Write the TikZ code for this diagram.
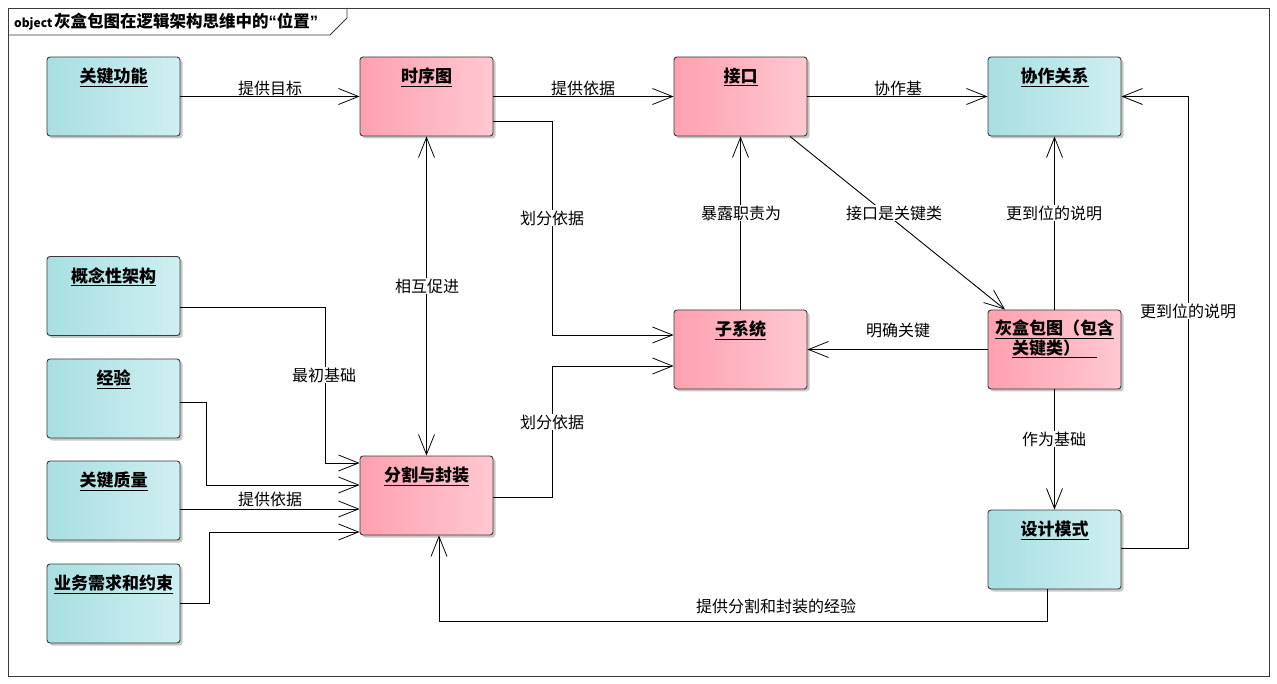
\documentclass[tikz,border=0pt]{standalone}
\usepackage{fontspec}
\setmainfont{Noto Sans CJK SC}
\newfontfamily\latinf{Liberation Sans}
\usetikzlibrary{arrows.meta,shadows,calc}
\definecolor{cyanL}{HTML}{A8DFE2}
\definecolor{cyanR}{HTML}{CFEFF1}
\definecolor{pinkL}{HTML}{FFA0AF}
\definecolor{pinkR}{HTML}{FFC8D2}
\definecolor{bord}{HTML}{3A3A3A}
\tikzset{
  box/.style={draw=bord, line width=0.9pt, rounded corners=3pt, minimum width=133pt, minimum height=79pt,
    inner sep=0pt, shading=axis, shading angle=90,
    drop shadow={shadow xshift=2.5pt, shadow yshift=-2.5pt, fill=black, opacity=0.22}},
  cbox/.style={box, left color=cyanL, right color=cyanR},
  pbox/.style={box, left color=pinkL, right color=pinkR},
  ttl/.style={anchor=north, yshift=-8pt, font=\bfseries\fontsize{17}{18}\selectfont, align=center},
  lbl/.style={fill=white, inner sep=1pt, font=\fontsize{16}{17}\selectfont},
  conn/.style={line width=0.9pt, draw=black, -{Straight Barb[length=20pt,width=16pt,line width=0.8pt]}},
}
\begin{document}
\begin{tikzpicture}[x=1pt,y=-1pt]
\useasboundingbox (0,0) rectangle (1277,684);
% frame
\draw[line width=0.9pt, draw=bord] (8,8) rectangle (1269,676);
\draw[line width=0.9pt, draw=bord] (8,35) -- (330,35) -- (347,18) -- (347,8);
\node[anchor=west, inner sep=0pt] (title) at (14,22) {\bfseries{\fontsize{12}{13}\selectfont object}\,\fontsize{16.5}{18}\selectfont 灰盒包图在逻辑架构思维中的{\latinf“}位置{\latinf”}};

% boxes
\node[cbox, label={[ttl]north:\underline{关键功能}}] (gj) at (113.5,96.5) {};
\node[pbox, label={[ttl]north:\underline{时序图}}] (sx) at (426.5,96.5) {};
\node[pbox, label={[ttl]north:\underline{接口}}] (jk) at (740.5,96.5) {};
\node[cbox, label={[ttl]north:\underline{协作关系}}] (xz) at (1054.5,96.5) {};
\node[cbox, label={[ttl]north:\underline{概念性架构}}] (gn) at (113.5,296) {};
\node[cbox, label={[ttl]north:\underline{经验}}] (jy) at (113.5,398.5) {};
\node[cbox, label={[ttl]north:\underline{关键质量}}] (zl) at (113.5,500.5) {};
\node[cbox, label={[ttl]north:\underline{业务需求和约束}}] (yw) at (113.5,603.5) {};
\node[pbox, label={[ttl]north:\underline{分割与封装}}] (fg) at (426.5,495.5) {};
\node[pbox, label={[ttl]north:\underline{子系统}}] (zx) at (740.5,349.5) {};
\node[pbox, label={[ttl, yshift=1pt, font=\bfseries\fontsize{17}{17.5}\selectfont]north:\underline{灰盒包图（包含}\\\underline{关键类）\hphantom{（}}}] (hh) at (1054.5,349.5) {};
\node[cbox, label={[ttl]north:\underline{设计模式}}] (sj) at (1054.5,549.5) {};

% connectors
\draw[conn] (gj.east) -- (sx.west);
\draw[conn] (sx.east) -- (jk.west);
\draw[conn] (jk.east) -- (xz.west);
\draw[conn] ([yshift=-24.5pt]sx.east) -- ++(59,0) |- ([yshift=14.5pt]zx.west);
\draw[conn, {Straight Barb[length=20pt,width=16pt,line width=0.8pt]}-{Straight Barb[length=20pt,width=16pt,line width=0.8pt]}] (sx.south) -- (fg.north);
\draw[conn] ([yshift=-1.5pt]fg.east) -- ++(59,0) |- ([yshift=-16.5pt]zx.west);
\draw[conn] (zx.north) -- (jk.south);
\draw[conn] ([xshift=49.5pt]jk.south) -- ([xshift=-49.5pt]hh.north);
\draw[conn] (hh.west) -- (zx.east);
\draw[conn] (hh.north) -- (xz.south);
\draw[conn] (hh.south) -- (sj.north);
\draw[conn] ([yshift=1.5pt]sj.east) -- ++(67,0) |- (xz.east);
\draw[conn] ([xshift=-7.5pt]sj.south) -- ++(0,32) -| ([xshift=12.5pt]fg.south);
\draw[conn] ([yshift=-11pt]gn.east) -- ++(145,0) |- ([yshift=32.5pt]fg.west);
\draw[conn] ([yshift=-3.5pt]jy.east) -- ++(26,0) |- ([yshift=10.5pt]fg.west);
\draw[conn] ([yshift=-8.5pt]zl.east) -- ([yshift=-13.5pt]fg.west);
\draw[conn] (yw.east) -- ++(29,0) |- ([yshift=-36.5pt]fg.west);

% labels
\node[lbl] (l1) at (270,88) {提供目标};
\node[lbl] (l2) at (583,88) {提供依据};
\node[lbl] (l3) at (898,88) {协作基};
\node[lbl] (l4) at (552,218) {划分依据};
\node[lbl] (l5) at (427,286) {相互促进};
\node[lbl] (l6) at (552,422) {划分依据};
\node[lbl] (l7) at (741,213) {暴露职责为};
\node[lbl] (l8) at (894,213) {接口是关键类};
\node[lbl] (l9) at (898,330) {明确关键};
\node[lbl] (l10) at (1054,213) {更到位的说明};
\node[lbl] (l11) at (1054,439) {作为基础};
\node[lbl] (l12) at (1188,311) {更到位的说明};
\node[lbl] (l13) at (776,606) {提供分割和封装的经验};
\node[lbl] (l14) at (324,375) {最初基础};
\node[lbl] (l15) at (270,499) {提供依据};
\end{tikzpicture}
\end{document}
